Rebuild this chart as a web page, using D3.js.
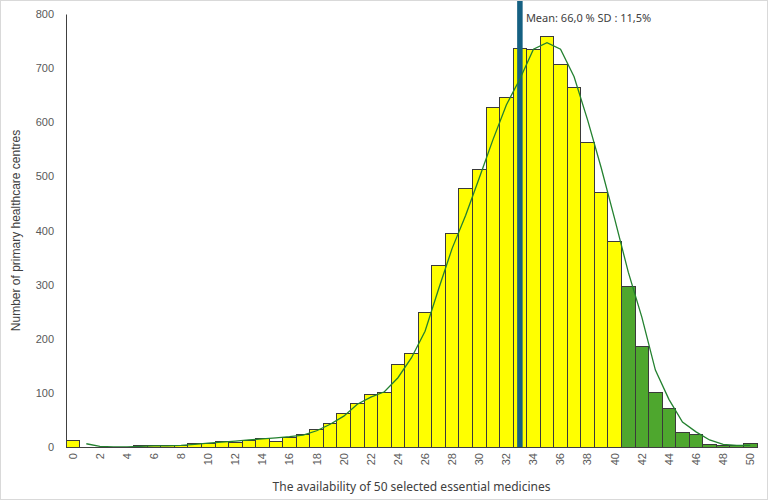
<!DOCTYPE html>
<html>
<head>
<meta charset="utf-8">
<script src="https://cdn.jsdelivr.net/npm/d3@7"></script>
<style>
  html, body { margin: 0; padding: 0; background: #fff; }
</style>
</head>
<body>
<div class="chart"></div>
<script>
// bins: number of available medicines (out of 50)
const bins = [0,1,2,3,4,5,6,7,8,9,10,11,12,13,14,15,16,17,18,19,20,21,22,23,24,25,
    26,27,28,29,30,31,32,33,34,35,36,37,38,39,40,41,42,43,44,45,46,47,48,49,50];

// number of primary healthcare centres per bin
const counts = [12,0,0,0,0,2,3,3,3,7,6,10,9,12,15,11,17,23,33,44,62,81,97,101,152,172,
    248,335,395,478,512,627,646,736,735,759,706,664,562,471,380,296,185,101,72,27,24,4,3,2,6];

// fitted normal curve (starts at bin 1)
const fitted = [null,6,1,0,0,1,2,2,3,5,7,9,11,13,15,17,19,22,30,42,57,79,92,102,128,165,
    214,292,367,428,497,567,632,680,735,747,735,684,604,516,421,323,240,142,88,46,28,13,5,3,3];

const xTicks = [0,2,4,6,8,10,12,14,16,18,20,22,24,26,28,30,32,34,36,38,40,42,44,46,48,50];
const yTicks = [0,100,200,300,400,500,600,700,800];

const meanBin = 33;
const greenFrom = 41;
const meanLabel = "Mean: 66,0 % SD : 11,5%";
const xTitle = "The availability of 50 selected essential medicines";
const yTitle = "Number of primary healthcare centres";

const width = 770;
const height = 503;
const margin = { top: 14, right: 13, bottom: 56, left: 66 };

const svg = d3.select(".chart")
    .append("svg")
    .attr("width", width)
    .attr("height", height)
    .style("display", "block");

svg.append("rect")
    .attr("x", 0.5).attr("y", 0.5)
    .attr("width", 767).attr("height", 499)
    .attr("fill", "#fff")
    .attr("stroke", "#d9d9d9");

const x = d3.scaleBand()
    .domain(bins)
    .range([margin.left, width - margin.right])
    .padding(0);

const y = d3.scaleLinear()
    .domain([0, 800])
    .range([height - margin.bottom, margin.top]);

const data = bins.map((b, i) => ({ bin: b, count: counts[i], fit: fitted[i] }));

// bars
svg.append("g")
    .selectAll("rect")
    .data(data)
    .enter()
    .append("rect")
    .attr("x", d => x(d.bin))
    .attr("y", d => y(d.count))
    .attr("width", x.bandwidth())
    .attr("height", d => y(0) - y(d.count))
    .attr("fill", d => d.bin >= greenFrom ? "#4ea72e" : "#ffff00")
    .attr("stroke", "#3a3a3a")
    .attr("stroke-width", 1)
    .attr("shape-rendering", "crispEdges");

// mean line
const mx = x(meanBin) + x.bandwidth() / 2;
svg.append("line")
    .attr("x1", mx).attr("x2", mx)
    .attr("y1", 1).attr("y2", y(0))
    .attr("stroke", "#156082")
    .attr("stroke-width", 5.5);

svg.append("text")
    .attr("x", mx + 6)
    .attr("y", 22)
    .attr("font-family", "'Noto Sans', sans-serif")
    .attr("font-size", 11)
    .attr("fill", "#404040")
    .text(meanLabel);

// fitted curve
const line = d3.line()
    .defined(d => d.fit !== null)
    .x(d => x(d.bin) + x.bandwidth() / 2)
    .y(d => y(d.fit));

svg.append("path")
    .datum(data)
    .attr("d", line)
    .attr("fill", "none")
    .attr("stroke", "#23812f")
    .attr("stroke-width", 1.3);

// y axis
const yAxis = svg.append("g")
    .attr("transform", `translate(${margin.left},0)`)
    .call(d3.axisLeft(y).tickValues(yTicks).tickSize(0).tickPadding(12));
yAxis.select(".domain").attr("stroke", "#404040");
yAxis.selectAll("text")
    .attr("font-family", "'Liberation Sans', Arial, sans-serif")
    .attr("font-size", 11)
    .attr("fill", "#595959");

// x axis
const xAxis = svg.append("g")
    .attr("transform", `translate(0,${y(0)})`)
    .call(d3.axisBottom(x).tickValues(xTicks).tickSize(0).tickPadding(6));
xAxis.select(".domain").attr("stroke", "#404040");
xAxis.selectAll("text")
    .attr("font-family", "'Liberation Sans', Arial, sans-serif")
    .attr("font-size", 11)
    .attr("fill", "#595959")
    .attr("text-anchor", "end")
    .attr("dy", "0.35em")
    .attr("transform", "rotate(-90)")
    .attr("x", -6)
    .attr("y", 0);

// axis titles
svg.append("text")
    .attr("x", (margin.left + width - margin.right) / 2)
    .attr("y", 491)
    .attr("text-anchor", "middle")
    .attr("font-family", "'Noto Sans', sans-serif")
    .attr("font-size", 12)
    .attr("fill", "#404040")
    .text(xTitle);

svg.append("text")
    .attr("transform", `translate(20,${(margin.top + y(0)) / 2}) rotate(-90)`)
    .attr("text-anchor", "middle")
    .attr("font-family", "'Liberation Sans', Arial, sans-serif")
    .attr("font-size", 12)
    .attr("fill", "#404040")
    .text(yTitle);
</script>
</body>
</html>
